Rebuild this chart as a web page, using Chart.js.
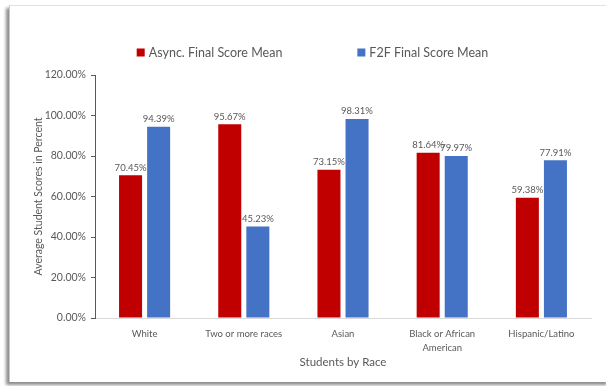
<!DOCTYPE html>
<html>
<head>
<meta charset="utf-8">
<script src="https://cdn.jsdelivr.net/npm/chart.js@4.4.1/dist/chart.umd.min.js"></script>
<style>
  html, body { margin: 0; padding: 0; background: #fff; }
  #wrap { position: relative; width: 606px; height: 386px; overflow: hidden; }
  #card {
    position: absolute; left: 9px; top: 5px; width: 600px; height: 376px;
    background: #fff;
    border-top: 1px solid #e2e2e2;
    border-left: 1px solid #c8c8c8;
    box-shadow: -3px 3px 3px rgba(0,0,0,0.45);
  }
  canvas { position: absolute; left: 0; top: 0; }
</style>
</head>
<body>
<div id="wrap">
  <div id="card"></div>
  <canvas id="mychart" width="606" height="386"></canvas>
</div>
<script>
const races = ['White', 'Two or more races', 'Asian', ['Black or African', 'American'], 'Hispanic/Latino'];
const asyncMean = [70.45, 95.67, 73.15, 81.64, 59.38];
const f2fMean = [94.39, 45.23, 98.31, 79.97, 77.91];
const yTicks = [0, 20, 40, 60, 80, 100, 120];

const FONT = 'Lato, "Noto Sans", sans-serif';
const GREY = '#595959';

// value labels above each bar
const barLabels = {
  id: 'barLabels',
  afterDatasetsDraw(chart) {
    const ctx = chart.ctx;
    ctx.save();
    ctx.font = '9.5px ' + FONT;
    ctx.fillStyle = GREY;
    ctx.textAlign = 'center';
    ctx.textBaseline = 'bottom';
    chart.data.datasets.forEach((ds, i) => {
      chart.getDatasetMeta(i).data.forEach((bar, j) => {
        ctx.fillText(ds.data[j].toFixed(2) + '%', bar.x, bar.y - 3);
      });
    });
    ctx.restore();
  }
};

// legend drawn across the top, wide gap between the two entries
const topLegend = {
  id: 'topLegend',
  afterDraw(chart) {
    const ctx = chart.ctx;
    ctx.save();
    ctx.font = '12.5px ' + FONT;
    ctx.textBaseline = 'middle';
    const box = 8, gap = 75, y = 52.5;
    const items = chart.data.datasets.map(ds => ({
      text: ds.label, color: ds.backgroundColor, w: ctx.measureText(ds.label).width
    }));
    const total = items.reduce((s, it) => s + box + 4 + it.w, 0) + gap * (items.length - 1);
    let x = 312.5 - total / 2;
    items.forEach(it => {
      ctx.fillStyle = it.color;
      ctx.fillRect(x, y - box / 2, box, box);
      ctx.fillStyle = GREY;
      ctx.fillText(it.text, x + box + 4, y);
      x += box + 4 + it.w + gap;
    });
    ctx.restore();
  }
};

new Chart(document.getElementById('mychart'), {
  type: 'bar',
  data: {
    labels: races,
    datasets: [
      { label: 'Async. Final Score Mean', data: asyncMean, backgroundColor: '#C00000',
        categoryPercentage: 0.566, barPercentage: 0.82 },
      { label: 'F2F Final Score Mean', data: f2fMean, backgroundColor: '#4472C4',
        categoryPercentage: 0.566, barPercentage: 0.82 }
    ]
  },
  options: {
    responsive: false,
    animation: false,
    layout: { padding: { left: 0, right: 15, top: 75, bottom: 0 } },
    plugins: {
      legend: { display: false },
      tooltip: { enabled: false }
    },
    scales: {
      x: {
        grid: { display: false, drawTicks: false },
        border: { color: '#d9d9d9' },
        ticks: { color: GREY, font: { family: FONT, size: 9.5, lineHeight: 1.45 }, padding: 9, maxRotation: 0 },
        title: { display: true, text: 'Students by Race', color: GREY,
                 font: { family: FONT, size: 11.5 }, padding: { top: 0, bottom: 17 } },
        afterFit(scale) { scale.height = 68; }
      },
      y: {
        min: 0, max: 120,
        afterBuildTicks(scale) { scale.ticks = yTicks.map(v => ({ value: v })); },
        grid: { drawOnChartArea: false, drawTicks: true, tickLength: 4, color: GREY },
        border: { color: GREY },
        ticks: { color: GREY, font: { family: FONT, size: 10.5 }, padding: 5,
                 callback: v => v.toFixed(2) + '%' },
        title: { display: true, text: 'Average Student Scores in Percent', color: GREY,
                 font: { family: FONT, size: 10.5 }, padding: { top: 32, bottom: 0 } },
        afterFit(scale) { scale.width = 95; }
      }
    }
  },
  plugins: [barLabels, topLegend]
});
</script>
</body>
</html>
